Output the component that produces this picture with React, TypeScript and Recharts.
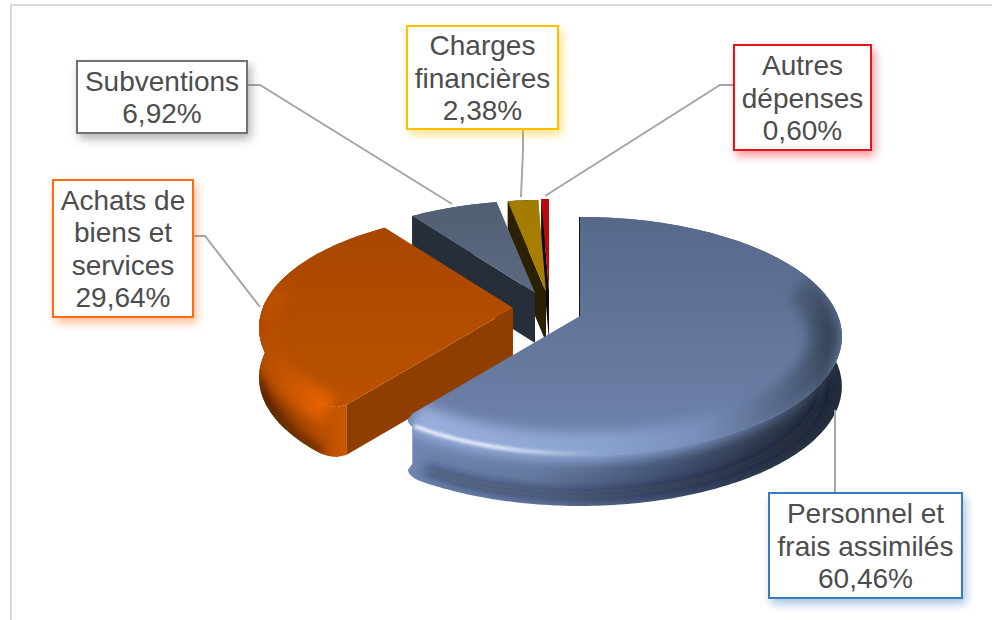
import { Pie, PieChart } from "recharts";

// Counter-clockwise from 12 o'clock, so the back slices are painted first
const categories = [
  "Autres dépenses",
  "Charges financières",
  "Subventions",
  "Achats de biens et services",
  "Personnel et frais assimilés",
];
const shares = [0.6, 2.38, 6.92, 29.64, 60.46];
const labelLines = [
  ["Autres", "dépenses"],
  ["Charges", "financières"],
  ["Subventions"],
  ["Achats de", "biens et", "services"],
  ["Personnel et", "frais assimilés"],
];

const chartData = categories.map((name, i) => ({ name, value: shares[i] }));

const FONT = '"Liberation Sans", Arial, sans-serif';
const TILT = 116 / 258; // flattening of the disc
const PERSPECTIVE = 0.171;
const DEPTH = 50;

interface SliceStyle {
  dx: number;
  dy: number;
  scale: number;
  topFrom: string;
  topTo: string;
  face: string;
  faceLine?: number;
  wall: [number, string][];
  bevel?: [number, string][];
  bevelRange?: [number, number];
  glint?: [number, number];
  edge?: string;
  edgeOpacity?: number;
  edgeRange?: [number, number];
  roundFrom?: [number, number];
  roundTo?: [number, number];
}

const sliceStyles: SliceStyle[] = [
  { dx: -31, dy: -25, scale: 0.93, topFrom: "#b80d0d", topTo: "#c20a0a", face: "#0c0c0c", wall: [[0, "#222"], [1, "#000"]] },
  { dx: -34, dy: -24, scale: 0.93, topFrom: "#a47c00", topTo: "#a87f00", face: "#2b2000", wall: [[0, "#2b2000"], [1, "#1a1300"]] },
  { dx: -45, dy: -23, scale: 0.93, topFrom: "#505f74", topTo: "#5b6a80", face: "#262f39", wall: [[0, "#262f39"], [1, "#2f3a47"]] },
  {
    dx: -67,
    dy: -8,
    scale: 0.97,
    topFrom: "#a84700",
    topTo: "#bb5100",
    face: "#8f3e00",
    wall: [[0, "#7a3300"], [0.3, "#a04400"], [0.8, "#d85c00"], [1, "#b34c00"]],
    bevel: [[0, "#b04b00"], [0.3, "#d05800"], [0.7, "#ff6c00"], [1, "#f06400"]],
    bevelRange: [220, 282],
    edge: "#2a1000",
    edgeOpacity: 0.75,
    edgeRange: [222, 272],
    roundFrom: [5, 0.05],
  },
  {
    dx: 0,
    dy: 0,
    scale: 1,
    topFrom: "#56688a",
    topTo: "#7085ad",
    face: "#10151d",
    faceLine: 2,
    wall: [[0, "#6f86b0"], [0.3, "#64799f"], [0.55, "#47587a"], [0.8, "#2f3b50"], [1, "#222b3a"]],
    bevel: [[0, "#9ab0dc"], [0.45, "#8aa2d0"], [0.66, "#7a91bc"], [0.82, "#5d7093"], [0.93, "#46566f"], [1, "#2a3442"]],
    bevelRange: [72, 217],
    glint: [176, 214],
    edge: "#141a24",
    edgeOpacity: 0.55,
    edgeRange: [92, 214],
    roundTo: [6, 0.07],
  },
];

const labelBoxes = [
  { x: 734, y: 45, w: 137, h: 105, stroke: "#e8141c", shadow: "#e8141c", leader: "734,85 720,85 545,196" },
  { x: 407, y: 26, w: 151, h: 103, stroke: "#ffc000", shadow: "#ffc000", leader: "523,129 523,150 521,197" },
  { x: 77, y: 61, w: 170, h: 72, stroke: "#767171", shadow: "#555555", leader: "247,85 260,85 452,204" },
  { x: 53, y: 180, w: 140, h: 137, stroke: "#ff6a13", shadow: "#ff6a13", leader: "193,236 205,236 260,307" },
  { x: 769, y: 493, w: 193, h: 105, stroke: "#3a7abf", shadow: "#3a7abf", leader: "835,493 835,410" },
];

// Projects a point of the disc: theta clockwise from the top, r 0..1 of the radius
function project(cx: number, cy: number, radius: number, thetaDeg: number, r = 1, z = 0) {
  const t = (thetaDeg * Math.PI) / 180;
  const X = Math.sin(t) * r;
  const Y = -Math.cos(t) * r;
  const s = 1 / (1 - PERSPECTIVE * Y);
  return [cx + radius * X * s, cy + radius * TILT * Y * s + z];
}

function arcPoints(
  cx: number,
  cy: number,
  radius: number,
  from: number,
  to: number,
  rAt: (theta: number) => number,
  z = 0,
) {
  const steps = Math.max(2, Math.ceil(Math.abs(to - from)));
  const pts: number[][] = [];
  for (let i = 0; i <= steps; i++) {
    const theta = from + ((to - from) * i) / steps;
    pts.push(project(cx, cy, radius, theta, rAt(theta), z));
  }
  return pts;
}

const toPath = (pts: number[][]) => pts.map((p, i) => `${i ? "L" : "M"}${p[0].toFixed(1)} ${p[1].toFixed(1)}`).join(" ");

function Slice3D(props: any) {
  const { cx, cy, outerRadius, startAngle, endAngle, index } = props;
  const st = sliceStyles[index];
  const ox = cx + st.dx;
  const oy = cy + st.dy;
  const radius = outerRadius * st.scale;
  // recharts angles are math degrees, counter-clockwise from 3 o'clock
  const from = 90 - endAngle;
  const to = 90 - startAngle;

  // rim pulled in near a corner so the front corners look rounded
  const rimR = (theta: number) => {
    let r = 1;
    if (st.roundFrom && theta < from + st.roundFrom[0]) {
      const u = (from + st.roundFrom[0] - theta) / st.roundFrom[0];
      r -= st.roundFrom[1] * (1 - Math.sqrt(Math.max(0, 1 - u * u)));
    }
    if (st.roundTo && theta > to - st.roundTo[0]) {
      const u = (theta - to + st.roundTo[0]) / st.roundTo[0];
      r -= st.roundTo[1] * (1 - Math.sqrt(Math.max(0, 1 - u * u)));
    }
    return r;
  };

  const rim = arcPoints(ox, oy, radius, from, to, rimR);
  const rimLow = arcPoints(ox, oy, radius, to, from, rimR, DEPTH);
  const wallPath = toPath([...rim, ...rimLow]) + " Z";
  const topPath = toPath([[ox, oy], ...rim]) + " Z";
  const faceRim = rim[0];
  const facePath = toPath([[ox, oy], faceRim, [faceRim[0], faceRim[1] + DEPTH], [ox, oy + DEPTH]]) + " Z";

  const xs = rim.map((p) => p[0]);
  const minX = Math.min(...xs);
  const maxX = Math.max(...xs);
  const key = `s${index}`;
  const glintPts = st.glint ? arcPoints(ox, oy, radius, st.glint[0], st.glint[1], () => 0.985) : [];

  return (
    <g>
      <defs>
        <linearGradient id={`${key}-top`} x1="0" y1="0" x2="0" y2="1">
          <stop offset="0" stopColor={st.topFrom} />
          <stop offset="1" stopColor={st.topTo} />
        </linearGradient>
        <linearGradient id={`${key}-wall`} gradientUnits="userSpaceOnUse" x1={minX} y1="0" x2={maxX} y2="0">
          {st.wall.map(([o, c]) => (
            <stop key={o} offset={o} stopColor={c} />
          ))}
        </linearGradient>
        {st.bevel && (
          <linearGradient id={`${key}-bevel`} gradientUnits="userSpaceOnUse" x1={minX} y1="0" x2={maxX} y2="0">
            {st.bevel.map(([o, c]) => (
              <stop key={o} offset={o} stopColor={c} />
            ))}
          </linearGradient>
        )}
        {st.glint && (
          // brightest at the left end, dying out toward the middle of the front
          <linearGradient
            id={`${key}-shine`}
            gradientUnits="userSpaceOnUse"
            x1={glintPts[glintPts.length - 1][0]}
            y1="0"
            x2={glintPts[0][0]}
            y2="0"
          >
            <stop offset="0" stopColor="#eef3ff" />
            <stop offset="0.4" stopColor="#eef3ff" />
            <stop offset="1" stopColor="#eef3ff" stopOpacity={0} />
          </linearGradient>
        )}
        <clipPath id={`${key}-clip`}>
          <path d={wallPath} />
          <path d={topPath} />
        </clipPath>
        <filter id={`${key}-soft`} filterUnits="userSpaceOnUse" x="0" y="0" width="992" height="620">
          <feGaussianBlur stdDeviation="6" />
        </filter>
        <filter id={`${key}-glint`} filterUnits="userSpaceOnUse" x="0" y="0" width="992" height="620">
          <feGaussianBlur stdDeviation="1.8" />
        </filter>
      </defs>

      <path d={wallPath} fill={`url(#${key}-wall)`} />
      <path d={facePath} fill={st.face} stroke={st.face} strokeWidth={st.faceLine ?? 0} />
      <path d={topPath} fill={`url(#${key}-top)`} />

      <g clipPath={`url(#${key}-clip)`}>
        {st.edgeRange && (
          <path
            d={toPath(arcPoints(ox, oy, radius, st.edgeRange[0], st.edgeRange[1], rimR, DEPTH))}
            fill="none"
            stroke={st.edge}
            strokeOpacity={st.edgeOpacity}
            strokeWidth={9}
            filter={`url(#${key}-soft)`}
          />
        )}
        {st.bevelRange && (
          <path
            d={toPath(arcPoints(ox, oy, radius, st.bevelRange[0], st.bevelRange[1], rimR, 3))}
            fill="none"
            stroke={`url(#${key}-bevel)`}
            strokeWidth={30}
            filter={`url(#${key}-soft)`}
          />
        )}
        {st.glint && (
          <path
            d={toPath(glintPts)}
            fill="none"
            stroke={`url(#${key}-shine)`}
            strokeWidth={3.5}
            filter={`url(#${key}-glint)`}
          />
        )}
      </g>
    </g>
  );
}

function BoxLabel(props: any) {
  const { index } = props;
  const box = labelBoxes[index];
  const rows = [...labelLines[index], `${shares[index].toFixed(2).replace(".", ",")}%`];
  const pitch = 32.5;
  const firstY = box.y + box.h / 2 - ((rows.length - 1) * pitch) / 2 + 10;
  return (
    <g>
      <polyline points={box.leader} fill="none" stroke="#a6a6a6" strokeWidth={2} />
      <rect
        x={box.x}
        y={box.y}
        width={box.w}
        height={box.h}
        fill="#ffffff"
        stroke={box.stroke}
        strokeWidth={2}
        style={{ filter: `drop-shadow(3px 5px 5px ${box.shadow}70)` }}
      />
      <text textAnchor="middle" fontFamily={FONT} fontSize={28} fill="#4d4d4d">
        {rows.map((row, i) => (
          <tspan key={row} x={box.x + box.w / 2} y={firstY + i * pitch}>
            {row}
          </tspan>
        ))}
      </text>
    </g>
  );
}

export default function App() {
  return (
    <div style={{ position: "absolute", left: 0, top: 0, width: 992, height: 620, background: "#ffffff", overflow: "hidden" }}>
      <div style={{ position: "absolute", left: 10, top: 4, width: 990, height: 640, border: "2px solid #d9d9d9", boxSizing: "border-box" }} />
      <div style={{ position: "absolute", left: 0, top: 0 }}>
        <PieChart width={992} height={620} margin={{ top: 0, right: 0, bottom: 0, left: 0 }}>
          <Pie
            data={chartData}
            dataKey="value"
            nameKey="name"
            cx={580}
            cy={316}
            innerRadius={0}
            outerRadius={258}
            startAngle={90}
            endAngle={450}
            paddingAngle={0}
            stroke="none"
            shape={Slice3D}
            label={BoxLabel}
            labelLine={false}
            isAnimationActive={false}
          />
        </PieChart>
      </div>
    </div>
  );
}
